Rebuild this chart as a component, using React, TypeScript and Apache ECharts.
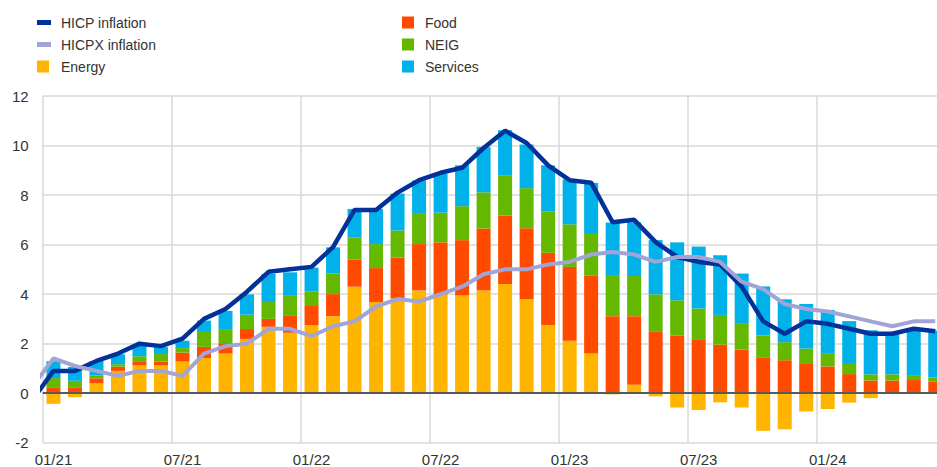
import React, { useEffect, useRef } from "react";
import * as echarts from "echarts";

const months = [
  "01/21", "02/21", "03/21", "04/21", "05/21", "06/21", "07/21", "08/21", "09/21", "10/21", "11/21", "12/21",
  "01/22", "02/22", "03/22", "04/22", "05/22", "06/22", "07/22", "08/22", "09/22", "10/22", "11/22", "12/22",
  "01/23", "02/23", "03/23", "04/23", "05/23", "06/23", "07/23", "08/23", "09/23", "10/23", "11/23", "12/23",
  "01/24", "02/24", "03/24", "04/24", "05/24", "06/24",
];

const energy = [
  -0.43, -0.16, 0.4, 0.9, 1.12, 1.12, 1.28, 1.42, 1.6, 2.19, 2.68, 2.44,
  2.75, 3.11, 4.3, 3.68, 3.83, 4.15, 3.99, 3.95, 4.15, 4.41, 3.79, 2.75,
  2.12, 1.6, -0.05, 0.34, -0.13, -0.58, -0.68, -0.37, -0.58, -1.52, -1.46, -0.74,
  -0.64, -0.38, -0.2, -0.03, 0.03, 0.02,
];
const food = [
  0.24, 0.24, 0.2, 0.17, 0.17, 0.16, 0.36, 0.45, 0.42, 0.4, 0.32, 0.68,
  0.77, 0.89, 1.1, 1.37, 1.64, 1.87, 2.1, 2.23, 2.5, 2.76, 2.87, 2.92,
  2.98, 3.14, 3.11, 2.77, 2.5, 2.33, 2.18, 1.96, 1.76, 1.45, 1.33, 1.18,
  1.08, 0.77, 0.51, 0.51, 0.5, 0.44,
];
const neig = [
  0.37, 0.26, 0.12, 0.1, 0.2, 0.3, 0.18, 0.64, 0.57, 0.58, 0.68, 0.84,
  0.58, 0.83, 0.88, 0.97, 1.1, 1.22, 1.2, 1.37, 1.46, 1.61, 1.62, 1.66,
  1.72, 1.69, 1.66, 1.62, 1.49, 1.42, 1.24, 1.2, 1.04, 0.88, 0.73, 0.62,
  0.51, 0.41, 0.25, 0.25, 0.2, 0.17,
];
const services = [
  0.68, 0.56, 0.58, 0.4, 0.45, 0.28, 0.3, 0.42, 0.73, 0.82, 1.14, 0.92,
  0.97, 1.06, 1.16, 1.42, 1.49, 1.35, 1.57, 1.65, 1.83, 1.84, 1.76, 1.87,
  1.81, 2.06, 2.12, 2.17, 2.19, 2.34, 2.5, 2.41, 2.03, 1.98, 1.73, 1.8,
  1.77, 1.73, 1.78, 1.62, 1.84, 1.9,
];

// Line series start one month earlier (12/20), clipped at the plot edge
const lineMonths = ["12/20", ...months];
const hicp = [
  -0.3,
  0.9, 0.9, 1.3, 1.6, 2.0, 1.9, 2.2, 3.0, 3.4, 4.1, 4.9, 5.0,
  5.1, 5.9, 7.4, 7.4, 8.1, 8.6, 8.9, 9.1, 9.9, 10.6, 10.1, 9.2,
  8.6, 8.5, 6.9, 7.0, 6.1, 5.5, 5.3, 5.2, 4.3, 2.9, 2.4, 2.9,
  2.8, 2.6, 2.4, 2.4, 2.6, 2.5,
];
const hicpx = [
  0.25,
  1.4, 1.1, 0.9, 0.7, 0.9, 0.9, 0.7, 1.6, 1.9, 2.0, 2.6, 2.6,
  2.3, 2.7, 2.9, 3.5, 3.8, 3.7, 4.0, 4.3, 4.8, 5.0, 5.0, 5.2,
  5.3, 5.6, 5.7, 5.6, 5.3, 5.5, 5.5, 5.3, 4.5, 4.2, 3.6, 3.4,
  3.3, 3.1, 2.9, 2.7, 2.9, 2.9,
];

const C_HICP = "#003299";
const C_HICPX = "#a0a5d6";
const C_ENERGY = "#ffb400";
const C_FOOD = "#ff4b00";
const C_NEIG = "#65b800";
const C_SERV = "#00b1ea";

const FONT = "'Liberation Sans', Arial, sans-serif";

export default function App() {
  const ref = useRef<HTMLDivElement>(null);

  useEffect(() => {
    document.body.style.margin = "0";
    const chart = echarts.init(ref.current!, null, { renderer: "svg" });

    const linePos = (i: number) => i - 1;
    const barBase = {
      type: "bar",
      stack: "contrib",
      barWidth: 14,
      xAxisIndex: 0,
      yAxisIndex: 0,
      z: 2,
    };

    const legendText = (pad: number) => ({
      fontFamily: FONT,
      fontSize: 14,
      color: "#333333",
      lineHeight: 14,
      padding: [0, 0, 0, pad],
    });

    const option: any = {
      animation: false,
      textStyle: { fontFamily: FONT },
      legend: [
        {
          orient: "vertical",
          left: 37,
          top: 15.5,
          padding: 0,
          itemGap: 8,
          itemWidth: 14,
          itemHeight: 5,
          icon: "rect",
          data: ["HICP inflation", "HICPX inflation"],
          textStyle: legendText(5),
        },
        {
          orient: "vertical",
          left: 37,
          top: 59.5,
          padding: 0,
          itemGap: 8,
          itemWidth: 12,
          itemHeight: 12,
          icon: "rect",
          data: ["Energy"],
          textStyle: legendText(7),
        },
        {
          orient: "vertical",
          left: 402,
          top: 15.5,
          padding: 0,
          itemGap: 8,
          itemWidth: 12,
          itemHeight: 12,
          icon: "rect",
          data: ["Food", "NEIG", "Services"],
          textStyle: legendText(6),
        },
      ],
      grid: {
        left: 42.7,
        right: 0,
        top: 96,
        bottom: 24.3,
        containLabel: false,
      },
      xAxis: [
        {
          type: "category",
          data: months,
          boundaryGap: true,
          position: "bottom",
          axisLine: { show: false, onZero: false },
          axisTick: { show: false, interval: 5 },
          axisLabel: {
            interval: 5,
            margin: 9,
            fontSize: 15,
            color: "#333333",
            fontFamily: FONT,
          },
          splitLine: {
            show: true,
            interval: 5,
            lineStyle: { color: "#d9d9d9", width: 1.5 },
          },
        },
        {
          type: "value",
          min: -0.5,
          max: 41.5,
          show: false,
          position: "bottom",
          axisLine: { onZero: false },
          splitLine: { show: false },
        },
      ],
      yAxis: {
        type: "value",
        min: -2,
        max: 12,
        interval: 2,
        axisLine: { show: false },
        axisTick: { show: false },
        axisLabel: {
          margin: 14,
          fontSize: 15,
          color: "#333333",
          fontFamily: FONT,
        },
        splitLine: { lineStyle: { color: "#d9d9d9", width: 1.5 } },
      },
      series: [
        {
          ...barBase,
          name: "Energy",
          data: energy,
          itemStyle: { color: C_ENERGY },
          markLine: {
            silent: true,
            symbol: ["none", "none"],
            label: { show: false },
            lineStyle: { color: "#595959", width: 2, type: "solid" },
            data: [{ yAxis: 0 }],
            z: 5,
          },
        },
        { ...barBase, name: "Food", data: food, itemStyle: { color: C_FOOD } },
        { ...barBase, name: "NEIG", data: neig, itemStyle: { color: C_NEIG } },
        { ...barBase, name: "Services", data: services, itemStyle: { color: C_SERV } },
        {
          type: "line",
          name: "HICP inflation",
          xAxisIndex: 1,
          yAxisIndex: 0,
          data: hicp.map((v, i) => [linePos(i), v]),
          showSymbol: false,
          symbol: "none",
          clip: true,
          z: 6,
          lineStyle: { color: C_HICP, width: 4.5 },
          itemStyle: { color: C_HICP },
        },
        {
          type: "line",
          name: "HICPX inflation",
          xAxisIndex: 1,
          yAxisIndex: 0,
          data: hicpx.map((v, i) => [linePos(i), v]),
          showSymbol: false,
          symbol: "none",
          clip: true,
          z: 7,
          lineStyle: { color: C_HICPX, width: 4 },
          itemStyle: { color: C_HICPX },
        },
      ],
    };

    chart.setOption(option);
    return () => chart.dispose();
  }, []);

  return (
    <div style={{ width: 937, height: 467, overflow: "hidden", background: "#ffffff" }}>
      <div ref={ref} style={{ width: 946, height: 467 }} />
    </div>
  );
}
